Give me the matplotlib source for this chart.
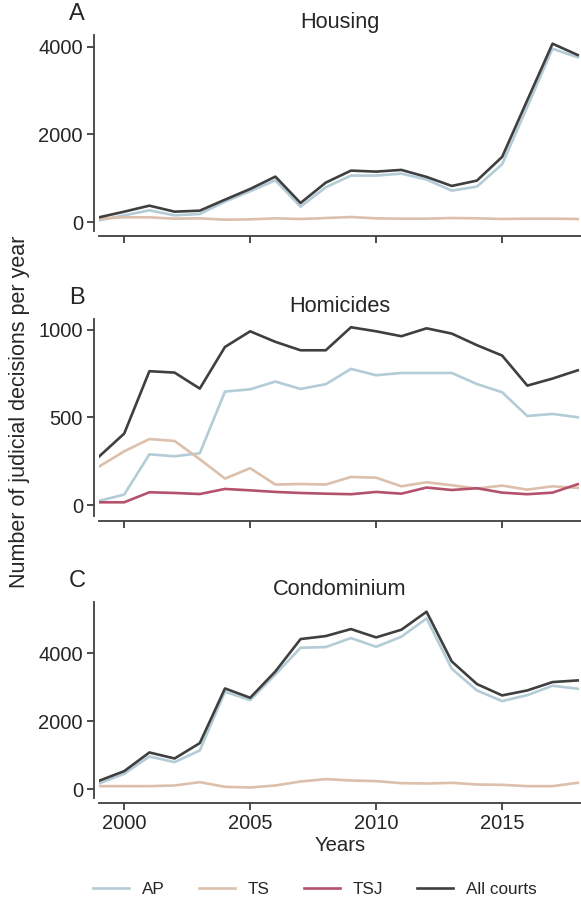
import numpy as np
import matplotlib
matplotlib.use("Agg")
import matplotlib.pyplot as plt

plt.rcParams['font.family'] = ['Liberation Sans', 'DejaVu Sans']

years = list(range(1999, 2019))

# Housing
housing_ap = [38, 152, 267, 152, 183, 465, 701, 952, 350, 792, 1059, 1059, 1105, 968, 716, 808, 1318, 2629, 3955, 3757]
housing_ts = [76, 107, 107, 76, 84, 53, 61, 84, 69, 91, 114, 84, 76, 76, 91, 84, 69, 76, 76, 69]
housing_all = [107, 236, 373, 236, 259, 510, 754, 1036, 434, 899, 1173, 1150, 1189, 1029, 823, 945, 1486, 2781, 4069, 3810]

# Homicides
homicides_ap = [25, 61, 290, 279, 296, 647, 660, 704, 662, 689, 776, 740, 753, 753, 753, 690, 643, 508, 520, 501]
homicides_ts = [220, 307, 377, 366, 262, 152, 211, 118, 121, 118, 161, 157, 108, 131, 114, 95, 112, 89, 108, 99]
homicides_tsj = [17, 17, 74, 70, 64, 93, 85, 76, 70, 66, 63, 76, 66, 101, 87, 97, 72, 63, 72, 120]
homicides_all = [277, 408, 763, 755, 664, 901, 990, 930, 882, 882, 1013, 990, 962, 1007, 977, 911, 852, 681, 721, 768]

# Condominium
condo_ap = [176, 461, 970, 804, 1147, 2871, 2626, 3381, 4165, 4185, 4449, 4194, 4488, 5027, 3548, 2911, 2597, 2773, 3048, 2960]
condo_ts = [98, 98, 98, 118, 216, 78, 59, 118, 235, 304, 265, 245, 186, 176, 196, 147, 137, 98, 98, 196]
condo_all = [255, 539, 1088, 911, 1362, 2969, 2695, 3469, 4420, 4508, 4714, 4469, 4694, 5223, 3763, 3097, 2764, 2911, 3156, 3205]

c_ap = "#b3ccd6"
c_ts = "#dcc0ab"
c_tsj = "#b4526d"
c_all = "#3f3f3f"
txt = "#262626"

W, H = 581, 898
fig = plt.figure(figsize=(W / 100, H / 100), dpi=100)


def ax_at(left, top, right, bottom):
    return fig.add_axes([left / W, 1 - bottom / H, (right - left) / W, (bottom - top) / H])


axA = ax_at(99, 35, 581, 231)
axB = ax_at(99, 319, 581, 516)
axC = ax_at(99, 602, 581, 798)

panels = [
    (axA, "A", "Housing", [(housing_ap, c_ap, "AP"), (housing_ts, c_ts, "TS"), (housing_all, c_all, "All courts")],
     (-205, 4267), [0, 2000, 4000]),
    (axB, "B", "Homicides", [(homicides_ap, c_ap, "AP"), (homicides_ts, c_ts, "TS"), (homicides_tsj, c_tsj, "TSJ"),
                             (homicides_all, c_all, "All courts")],
     (-61, 1060), [0, 500, 1000]),
    (axC, "C", "Condominium", [(condo_ap, c_ap, "AP"), (condo_ts, c_ts, "TS"), (condo_all, c_all, "All courts")],
     (-250, 5509), [0, 2000, 4000]),
]

for ax, letter, title, series, ylim, yticks in panels:
    for vals, col, lab in series:
        ax.plot(years, vals, color=col, lw=1.9, label=lab)
    ax.set_xlim(1999, 2018.13)
    ax.set_ylim(*ylim)
    ax.set_yticks(yticks)
    ax.set_xticks([2000, 2005, 2010, 2015])
    for s in ["top", "right"]:
        ax.spines[s].set_visible(False)
    for s in ["left", "bottom"]:
        ax.spines[s].set_position(("outward", 3.6))
        ax.spines[s].set_color(c_all)
        ax.spines[s].set_linewidth(1.3)
    ax.tick_params(colors=c_all, labelcolor=txt, labelsize=14.5, width=1.3, length=5, pad=3)
    ax.set_title(title, fontsize=15.7, color=txt, pad=5)
    ax.text(-0.046, 1.05, letter, transform=ax.transAxes, fontsize=17, color=txt, ha="center", va="bottom")
    if ax is not axC:
        ax.tick_params(axis="x", labelbottom=False)

axC.set_xlabel("Years", fontsize=14.6, color=txt, labelpad=2)
fig.text(20 / W, 1 - 412 / H, "Number of judicial decisions per year", rotation=90,
         fontsize=15.5, color=txt, ha="center", va="center")

handles, labels = axB.get_legend_handles_labels()
fig.legend(handles, labels, loc="center", bbox_to_anchor=(315 / W, 1 - 889 / H), ncol=4, frameon=False,
           fontsize=12.3, handlelength=2.1, handletextpad=0.76, columnspacing=2.0, labelcolor=txt)

fig.savefig("out.png", dpi=100)
